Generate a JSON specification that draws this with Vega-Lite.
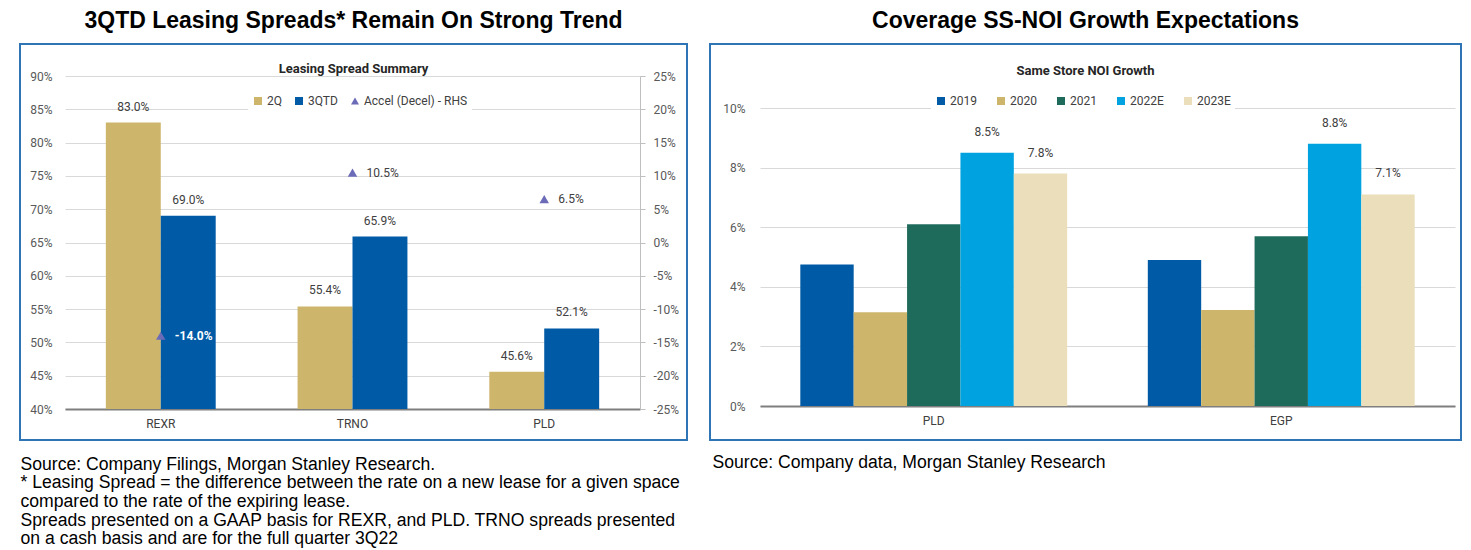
{
  "$schema": "https://vega.github.io/schema/vega-lite/v6.json",
  "background": "white",
  "padding": {"left": 19, "top": 9, "right": 0, "bottom": 0},
  "bounds": "flush",
  "spacing": 23,
  "resolve": {
    "scale": {"color": "independent", "xOffset": "independent", "shape": "independent"},
    "legend": {"color": "independent", "shape": "independent"}
  },
  "config": {
    "locale": {"number": {"decimal": ".", "thousands": ",", "grouping": [3], "currency": ["$", ""], "minus": "-"}},
    "view": {"stroke": "#2F75B5", "strokeWidth": 2},
    "font": "Roboto",
    "axis": {"labelFont": "Roboto", "labelFontSize": 12, "labelColor": "#595959", "gridColor": "#D9D9D9", "gridWidth": 1.2, "labelOverlap": false},
    "title": {"font": "Liberation Sans", "fontSize": 23, "fontWeight": "bold", "color": "#000000", "subtitleFont": "Roboto", "subtitleFontSize": 13, "subtitleFontWeight": "bold", "subtitleColor": "#262626", "anchor": "middle"},
    "legend": {"labelFont": "Roboto", "labelFontSize": 12, "labelColor": "#404040", "symbolSize": 64, "symbolStrokeWidth": 0, "fillColor": "white", "padding": 4, "columnPadding": 9, "labelOffset": 3}
  },
  "datasets": {
    "spread": [
      {"ticker": "REXR", "period": "2Q", "spread": 0.83},
      {"ticker": "REXR", "period": "3QTD", "spread": 0.69},
      {"ticker": "TRNO", "period": "2Q", "spread": 0.554},
      {"ticker": "TRNO", "period": "3QTD", "spread": 0.659},
      {"ticker": "PLD", "period": "2Q", "spread": 0.456},
      {"ticker": "PLD", "period": "3QTD", "spread": 0.521}
    ],
    "accel": [
      {"ticker": "REXR", "period": "Accel (Decel) - RHS", "accel": -0.14},
      {"ticker": "TRNO", "period": "Accel (Decel) - RHS", "accel": 0.105},
      {"ticker": "PLD", "period": "Accel (Decel) - RHS", "accel": 0.065}
    ],
    "noi": [
      {"reit": "PLD", "year": "2019", "growth": 0.0475},
      {"reit": "PLD", "year": "2020", "growth": 0.0315},
      {"reit": "PLD", "year": "2021", "growth": 0.061},
      {"reit": "PLD", "year": "2022E", "growth": 0.085},
      {"reit": "PLD", "year": "2023E", "growth": 0.078},
      {"reit": "EGP", "year": "2019", "growth": 0.049},
      {"reit": "EGP", "year": "2020", "growth": 0.0322},
      {"reit": "EGP", "year": "2021", "growth": 0.057},
      {"reit": "EGP", "year": "2022E", "growth": 0.088},
      {"reit": "EGP", "year": "2023E", "growth": 0.071}
    ]
  },
  "hconcat": [
    {
      "width": 667,
      "height": 396,
      "title": {
        "text": "3QTD Leasing Spreads* Remain On Strong Trend",
        "subtitle": "Leasing Spread Summary",
        "subtitlePadding": 30,
        "offset": -32
      },
      "layer": [
        {
          "data": {"name": "spread"},
          "encoding": {
            "x": {
              "field": "ticker", "type": "nominal", "sort": ["REXR", "TRNO", "PLD"],
              "scale": {"range": [45, 620], "paddingInner": 0.427, "paddingOuter": 0.213},
              "axis": {
                "orient": "bottom", "offset": -31, "labelAngle": 0, "ticks": false, "labelPadding": 9,
                "labelColor": "#404040", "domainColor": "#7F7F7F", "domainWidth": 2, "grid": false,
                "title": ["Source: Company Filings, Morgan Stanley Research.", "* Leasing Spread = the difference between the rate on a new lease for a given space", "compared to the rate of the expiring lease.", "Spreads presented on a GAAP basis for REXR, and PLD. TRNO spreads presented", "on a cash basis and are for the full quarter 3Q22"],
                "titleX": 0, "titleY": 46, "titleAlign": "left", "titleAnchor": "start", "titleBaseline": "top",
                "titleFont": "Liberation Sans", "titleFontWeight": "normal", "titleFontSize": 17.6, "titleColor": "#000000", "titleLineHeight": 18.7
              }
            },
            "xOffset": {"field": "period", "type": "nominal", "sort": ["2Q", "3QTD"], "scale": {"paddingInner": 0, "paddingOuter": 0}},
            "y": {
              "field": "spread", "type": "quantitative",
              "scale": {"domain": [0.4, 0.9], "range": [365, 32], "nice": false, "zero": false},
              "axis": {
                "orient": "left", "offset": -45, "values": [0.4, 0.45, 0.5, 0.55, 0.6, 0.65, 0.7, 0.75, 0.8, 0.85, 0.9],
                "format": ".0%", "domain": false, "ticks": false, "labelPadding": 13, "grid": true, "title": null, "labelOverlap": false
              }
            }
          },
          "layer": [
            {
              "mark": {"type": "bar"},
              "encoding": {
                "y2": {"datum": 0.4},
                "color": {
                  "field": "period", "type": "nominal",
                  "scale": {"domain": ["2Q", "3QTD", "Accel (Decel) - RHS"], "range": ["#CDB66B", "#005AA5", "#6B6BB8"]},
                  "legend": {"title": null, "orient": "none", "legendX": 228, "legendY": 47, "direction": "horizontal", "columnPadding": 11}
                }
              }
            },
            {
              "mark": {"type": "text", "baseline": "bottom", "dy": -9, "fontSize": 12, "color": "#404040"},
              "encoding": {
                "text": {"field": "spread", "type": "quantitative", "format": ".1%"}
              }
            }
          ]
        },
        {
          "data": {"name": "accel"},
          "encoding": {
            "x": {"field": "ticker", "type": "nominal", "sort": ["REXR", "TRNO", "PLD"]},
            "y": {
              "field": "accel", "type": "quantitative",
              "scale": {"domain": [-0.25, 0.25], "range": [365, 32], "nice": false, "zero": false},
              "axis": {
                "orient": "right", "offset": -47, "values": [-0.25, -0.2, -0.15, -0.1, -0.05, 0, 0.05, 0.1, 0.15, 0.2, 0.25],
                "format": ".0%", "domain": true, "domainColor": "#BFBFBF", "ticks": true, "tickColor": "#BFBFBF", "tickSize": 5,
                "labelPadding": 8, "grid": false, "title": null, "labelOverlap": false
              }
            }
          },
          "layer": [
            {
              "mark": {"type": "point", "filled": true, "opacity": 1, "size": 90},
              "encoding": {
                "color": {"field": "period", "type": "nominal"},
                "shape": {
                  "field": "period", "type": "nominal",
                  "scale": {"domain": ["2Q", "3QTD", "Accel (Decel) - RHS"], "range": ["square", "square", "triangle-up"]},
                  "legend": {"title": null, "orient": "none", "legendX": 228, "legendY": 47, "direction": "horizontal", "columnPadding": 11}
                }
              }
            },
            {
              "transform": [{"filter": "datum.accel >= 0"}],
              "mark": {"type": "text", "align": "left", "baseline": "middle", "dx": 14, "fontSize": 12, "color": "#404040"},
              "encoding": {
                "text": {"field": "accel", "type": "quantitative", "format": ".1%"}
              }
            },
            {
              "transform": [{"filter": "datum.accel < 0"}],
              "mark": {"type": "text", "align": "left", "baseline": "middle", "dx": 14, "fontSize": 12, "fontWeight": "bold", "color": "#FFFFFF"},
              "encoding": {
                "text": {"field": "accel", "type": "quantitative", "format": ".1%"}
              }
            }
          ]
        }
      ],
      "resolve": {"scale": {"y": "independent"}, "axis": {"y": "independent"}}
    },
    {
      "width": 751,
      "height": 396,
      "title": {
        "text": "Coverage SS-NOI Growth Expectations",
        "subtitle": "Same Store NOI Growth",
        "subtitlePadding": 32,
        "offset": -34
      },
      "data": {"name": "noi"},
      "encoding": {
        "x": {
          "field": "reit", "type": "nominal", "sort": ["PLD", "EGP"],
          "scale": {"range": [50, 745], "paddingInner": 0.232, "paddingOuter": 0.116},
          "axis": {
            "orient": "bottom", "offset": -34, "labelAngle": 0, "ticks": false, "labelPadding": 9,
            "labelColor": "#404040", "domainColor": "#7F7F7F", "domainWidth": 2, "grid": false,
            "title": "Source: Company data, Morgan Stanley Research",
            "titleX": 2, "titleY": 47, "titleAlign": "left", "titleAnchor": "start", "titleBaseline": "top",
            "titleFont": "Liberation Sans", "titleFontWeight": "normal", "titleFontSize": 17.6, "titleColor": "#000000"
          }
        },
        "xOffset": {"field": "year", "type": "nominal", "sort": ["2019", "2020", "2021", "2022E", "2023E"], "scale": {"paddingInner": 0, "paddingOuter": 0}},
        "y": {
          "field": "growth", "type": "quantitative",
          "scale": {"domain": [0, 0.1], "range": [362, 64], "nice": false},
          "axis": {
            "orient": "left", "offset": -50, "values": [0, 0.02, 0.04, 0.06, 0.08, 0.1],
            "format": ".0%", "domain": false, "ticks": false, "labelPadding": 15, "grid": true, "title": null
          }
        }
      },
      "layer": [
        {
          "mark": {"type": "bar"},
          "encoding": {
            "y2": {"datum": 0},
            "color": {
              "field": "year", "type": "nominal",
              "scale": {"domain": ["2019", "2020", "2021", "2022E", "2023E"], "range": ["#005AA5", "#CDB66B", "#1F6B5B", "#00A3E0", "#EADFBA"]},
              "legend": {"title": null, "orient": "none", "legendX": 221, "legendY": 47, "direction": "horizontal", "symbolType": "square", "columnPadding": 18}
            }
          }
        },
        {
          "transform": [{"filter": "datum.year == '2022E' || datum.year == '2023E'"}],
          "mark": {"type": "text", "baseline": "bottom", "dy": -14, "fontSize": 12, "color": "#404040"},
          "encoding": {
            "text": {"field": "growth", "type": "quantitative", "format": ".1%"}
          }
        }
      ]
    }
  ]
}
